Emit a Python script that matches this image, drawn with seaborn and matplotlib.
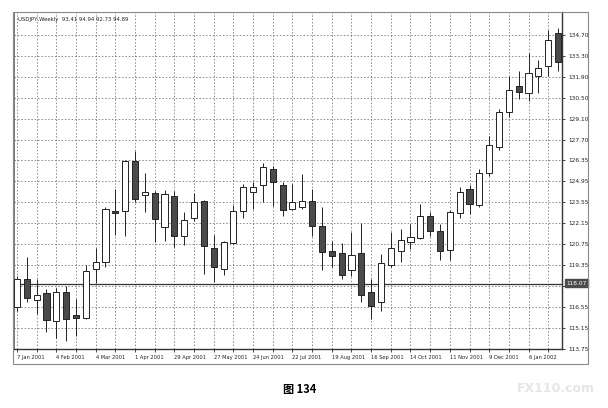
import numpy as np
import pandas as pd
import matplotlib
matplotlib.use("Agg")
import matplotlib.pyplot as plt
import seaborn as sns

# weekly USDJPY candles
opens = [116.55, 118.38, 117.01, 117.48, 115.62, 117.58, 116.00, 115.82, 119.09, 119.53,
         122.92, 122.91, 126.27, 124.04, 124.11, 121.85, 123.95, 121.26, 122.45, 123.62,
         120.46, 119.09, 120.79, 122.95, 124.24, 124.66, 125.72, 124.66, 123.05, 123.18,
         123.62, 121.92, 120.26, 120.13, 119.04, 120.13, 117.54, 116.88, 119.37, 120.26,
         120.86, 121.12, 122.62, 121.59, 120.37, 122.80, 124.39, 123.33, 125.50, 127.22,
         129.52, 131.24, 130.81, 131.91, 132.57, 134.78]
highs = [118.60, 119.86, 118.42, 117.76, 117.83, 117.98, 117.10, 119.35, 120.46, 123.18,
         124.39, 126.35, 126.93, 125.50, 124.30, 124.35, 124.30, 122.85, 124.17, 123.70,
         121.34, 120.97, 123.33, 124.72, 124.88, 126.12, 125.94, 124.90, 124.72, 125.39,
         124.39, 123.18, 120.97, 120.81, 121.52, 122.12, 118.43, 120.08, 121.52, 121.74,
         122.07, 123.40, 122.85, 122.07, 123.00, 124.51, 124.66, 125.77, 127.93, 129.74,
         131.91, 132.24, 133.46, 133.01, 135.00, 135.12]
lows = [116.30, 116.88, 116.10, 114.89, 114.45, 114.31, 114.60, 115.75, 118.16, 119.24,
        121.34, 121.30, 123.51, 122.89, 120.86, 120.97, 120.53, 120.68, 122.29, 118.76,
        118.21, 118.69, 120.75, 122.45, 123.07, 123.55, 123.29, 122.58, 123.00, 123.10,
        121.30, 119.04, 119.20, 118.43, 118.60, 116.88, 115.77, 116.26, 119.20, 119.53,
        120.41, 121.10, 121.26, 119.71, 119.71, 122.49, 122.74, 123.18, 125.28, 127.00,
        129.19, 130.41, 130.29, 130.81, 131.91, 132.24]
closes = [118.38, 117.18, 117.38, 115.71, 117.54, 115.77, 115.82, 118.94, 119.53, 123.05,
          122.80, 126.27, 123.73, 124.21, 122.38, 124.06, 121.30, 122.36, 123.55, 120.63,
          119.24, 120.86, 122.95, 124.51, 124.57, 125.90, 124.88, 123.02, 123.51, 123.62,
          121.92, 120.20, 119.93, 118.71, 120.02, 117.32, 116.61, 119.49, 120.46, 121.03,
          121.19, 122.62, 121.63, 120.30, 122.85, 124.21, 123.40, 125.50, 127.33, 129.55,
          130.98, 130.87, 132.13, 132.50, 134.34, 132.90]

date_labels = ["7 Jan 2001", "4 Feb 2001", "4 Mar 2001", "1 Apr 2001", "29 Apr 2001",
               "27 May 2001", "24 Jun 2001", "22 Jul 2001", "19 Aug 2001", "16 Sep 2001",
               "14 Oct 2001", "11 Nov 2001", "9 Dec 2001", "6 Jan 2002"]
price_ticks = [113.75, 115.15, 116.55, 117.95, 119.35, 120.75, 122.15, 123.55, 124.95,
               126.35, 127.70, 129.10, 130.50, 131.90, 133.30, 134.70]
level = 118.07
header = "USDJPY,Weekly  93.41 94.94 92.73 94.89"

df = pd.DataFrame({"open": opens, "high": highs, "low": lows, "close": closes})
df["week"] = np.arange(len(df))
df["bottom"] = df[["open", "close"]].min(axis=1)
df["body"] = (df["close"] - df["open"]).abs().clip(lower=0.07)
df["up"] = df["close"] >= df["open"]

sns.set_theme(style="white")
plt.rcParams["font.family"] = ["DejaVu Sans", "Noto Sans CJK SC"]

fig = plt.figure(figsize=(6.08, 4.08), dpi=100)
ax = fig.add_axes([14 / 608, 1 - 349 / 408, 548 / 608, 337 / 408])

ink = "#222222"
ax.vlines(df["week"], df["low"], df["high"], color=ink, lw=0.7, zorder=3)
ax.bar(df["week"], df["body"], bottom=df["bottom"], width=0.62,
       color=np.where(df["up"], "white", "#4a4a4a"), edgecolor=ink, lw=0.7, zorder=4)

ax.axhline(level, color="#333333", lw=0.9, zorder=2)

ax.set_xlim(-0.3, 55.4)
ax.set_ylim(113.75, 136.2)

ax.set_yticks(price_ticks)
ax.set_yticklabels([f"{v:.2f}" for v in price_ticks])
ax.yaxis.tick_right()
ax.set_xticks(np.arange(0, 56, 4))
ax.set_xticklabels(date_labels)
ax.set_xticks(np.arange(2, 56, 4), minor=True)
for lbl in ax.get_xticklabels():
    lbl.set_ha("left")

ax.tick_params(axis="y", which="major", right=True, left=False, length=2.5, width=0.6,
               pad=2, labelsize=4.2, colors=ink)
ax.tick_params(axis="x", which="major", bottom=True, length=2.5, width=0.6,
               pad=2, labelsize=3.7, colors=ink)
ax.tick_params(axis="x", which="minor", bottom=True, length=2, width=0.6)

ax.grid(True, which="both", axis="both", color="#6e6e6e", lw=0.55, ls=(0, (2, 2.4)))
ax.set_axisbelow(True)

for side in ["left", "top"]:
    ax.spines[side].set_color("#777777")
    ax.spines[side].set_linewidth(0.7)
for side in ["right", "bottom"]:
    ax.spines[side].set_color("#333333")
    ax.spines[side].set_linewidth(1.0)

ax.text(0.008, 0.985, header, transform=ax.transAxes, fontsize=3.9, color=ink,
        ha="left", va="top", zorder=6)

# current price marker on the right scale, sits over the 117.95 label
ax.annotate(f"{level:.2f}", xy=(1, level), xycoords=("axes fraction", "data"),
            xytext=(3, 0.6), textcoords="offset points", fontsize=4.2, color="white",
            ha="left", va="center", zorder=10,
            bbox=dict(boxstyle="square,pad=0.25", fc="#4a4a4a", ec="#4a4a4a"),
            annotation_clip=False)

# outer frame of the chart window
fig.add_artist(plt.Rectangle((13 / 608, 1 - 364 / 408), 575 / 608, 352 / 408,
                             transform=fig.transFigure, fill=False,
                             ec="#8a8a8a", lw=0.8))

fig.text(300 / 608, 1 - 390 / 408, "图 134", fontsize=8, fontweight="bold",
         family=["Noto Sans CJK SC", "DejaVu Sans"], ha="center", va="center", color="black")
fig.text(556 / 608, 1 - 388 / 408, "FX110.com", fontsize=9, fontweight="bold",
         color="#e6e6e6", ha="center", va="center")

fig.savefig("out.png", dpi=100)
